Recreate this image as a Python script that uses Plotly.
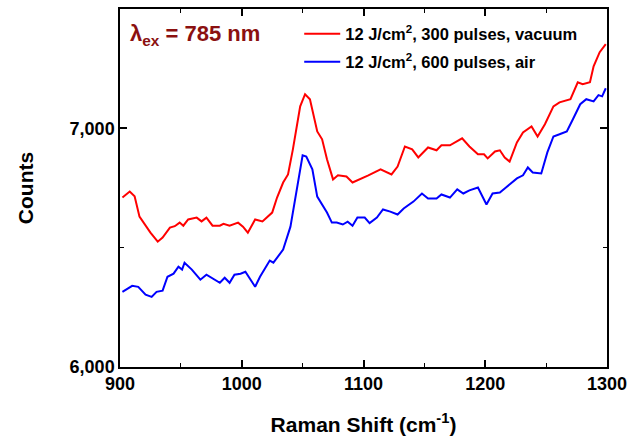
import plotly.graph_objects as go

red_x = [902, 908, 912, 916, 925, 931, 935, 941, 945, 949, 952, 956, 963, 967, 971, 976, 982, 985, 990, 997,
         1001, 1005, 1011, 1017, 1025, 1029, 1034, 1038, 1042, 1048, 1052, 1056, 1062, 1066, 1070, 1075, 1079,
         1086, 1091, 1097, 1104, 1114, 1123, 1128, 1134, 1140, 1145, 1153, 1160, 1164, 1171, 1181, 1187, 1194,
         1199, 1202, 1208, 1212, 1216, 1220, 1226, 1231, 1238, 1243, 1249, 1256, 1261, 1270, 1276, 1280, 1286,
         1289, 1294, 1299]
red_y = [6710, 6735, 6715, 6630, 6563, 6525, 6542, 6584, 6590, 6605, 6592, 6618, 6626, 6610, 6626, 6592, 6592,
         6600, 6592, 6605, 6588, 6563, 6618, 6610, 6647, 6710, 6773, 6807, 6912, 7092, 7143, 7122, 6987, 6954,
         6870, 6786, 6803, 6798, 6773, 6786, 6803, 6828, 6807, 6840, 6924, 6912, 6878, 6920, 6908, 6929, 6929,
         6958, 6924, 6891, 6891, 6874, 6903, 6908, 6878, 6861, 6941, 6983, 7008, 6966, 7017, 7092, 7109, 7122,
         7193, 7185, 7193, 7260, 7319, 7353]

blue_x = [902, 910, 915, 921, 926, 930, 935, 939, 944, 948, 951, 953, 959, 966, 971, 977, 982, 986, 990, 994,
          999, 1003, 1007, 1011, 1015, 1019, 1023, 1026, 1034, 1040, 1045, 1050, 1053, 1058, 1062, 1066, 1070,
          1074, 1078, 1083, 1087, 1091, 1095, 1101, 1105, 1111, 1116, 1122, 1128, 1133, 1141, 1148, 1153, 1160,
          1164, 1171, 1177, 1182, 1187, 1194, 1201, 1206, 1212, 1217, 1226, 1231, 1235, 1239, 1246, 1251, 1256,
          1261, 1267, 1272, 1278, 1283, 1289, 1293, 1296, 1299]
blue_y = [6315, 6340, 6336, 6303, 6294, 6315, 6320, 6378, 6391, 6420, 6408, 6437, 6408, 6366, 6387, 6370, 6353,
          6374, 6353, 6387, 6391, 6399, 6366, 6336, 6378, 6412, 6446, 6437, 6492, 6588, 6744, 6887, 6882, 6828,
          6714, 6681, 6647, 6605, 6605, 6597, 6609, 6592, 6626, 6626, 6603, 6626, 6660, 6651, 6639, 6664, 6693,
          6727, 6706, 6706, 6723, 6710, 6744, 6727, 6740, 6752, 6681, 6727, 6731, 6752, 6790, 6803, 6836, 6815,
          6811, 6899, 6966, 6975, 6987, 7038, 7101, 7122, 7113, 7139, 7134, 7168]

series_names = ["12 J/cm<sup>2</sup>, 300 pulses, vacuum", "12 J/cm<sup>2</sup>, 600 pulses, air"]

FONT = "Liberation Sans, Arial, sans-serif"

fig = go.Figure()
fig.add_trace(go.Scatter(x=red_x, y=red_y, mode="lines", name=series_names[0],
                         line=dict(color="#ff0000", width=2), legend="legend"))
fig.add_trace(go.Scatter(x=blue_x, y=blue_y, mode="lines", name=series_names[1],
                         line=dict(color="#0000ff", width=2), legend="legend2"))

axis_common = dict(showline=True, linecolor="black", linewidth=1.5, mirror="ticks",
                   ticks="inside", ticklen=7, tickwidth=1.5, tickcolor="black",
                   showgrid=False, zeroline=False, automargin=False,
                   tickfont=dict(family=FONT, size=18, color="black", weight="bold"))

fig.update_xaxes(range=[900, 1300], tickvals=[900, 1000, 1100, 1200, 1300],
                 minor=dict(dtick=50, tick0=900, ticks="inside", ticklen=4, tickwidth=1.2, tickcolor="black"),
                 title=dict(text="Raman Shift (cm<sup>-1</sup>)", standoff=24,
                            font=dict(family=FONT, size=21, color="black", weight="bold")),
                 **axis_common)
fig.update_yaxes(range=[6000, 7500], tickvals=[6000, 7000], tickformat=",d",
                 minor=dict(tickvals=[6500], ticks="inside", ticklen=4, tickwidth=1.2, tickcolor="black"),
                 title=dict(text="Counts", standoff=30,
                            font=dict(family=FONT, size=21, color="black", weight="bold")),
                 **axis_common)

fig.add_annotation(x=0.016, y=0.928, xref="paper", yref="paper", xanchor="left", yanchor="middle",
                   text="λ<sub>ex</sub> = 785 nm", showarrow=False,
                   font=dict(family=FONT, size=22, color="#8b1010", weight="bold"))

legend_common = dict(xanchor="left", yanchor="middle", bgcolor="rgba(0,0,0,0)",
                     font=dict(family=FONT, size=16.5, color="black", weight="bold"), itemwidth=36)

fig.update_layout(
    width=630, height=441,
    margin=dict(l=120, r=23, t=9, b=74),
    paper_bgcolor="white", plot_bgcolor="white",
    showlegend=True,
    legend=dict(x=0.368, y=0.93, **legend_common),
    legend2=dict(x=0.368, y=0.852, **legend_common),
)

fig.write_html("out.html")
